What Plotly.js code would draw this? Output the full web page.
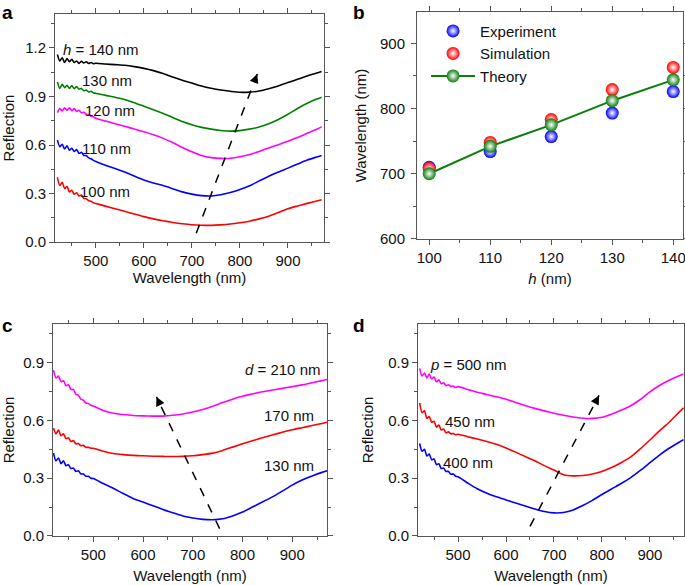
<!DOCTYPE html>
<html>
<head>
<meta charset="utf-8">
<script src="https://cdn.plot.ly/plotly-3.0.1.min.js"></script>
<style>
  body { margin: 0; background: #fff; }
  #chart { width: 685px; height: 585px; }
</style>
</head>
<body>
<div id="chart"></div>
<script>
// wavelength grid (nm) shared by the spectra in a, c and d
var wl = [420,425,430,435,440,445,450,455,460,465,470,475,480,485,490,495,500,
  520,540,560,580,600,620,640,660,680,700,720,740,760,780,800,820,840,860,880,900,920,940,960,970];

// panel a: h = 100 ... 140 nm
var refA100 = [0.40,0.35,0.37,0.33,0.345,0.31,0.32,0.295,0.305,0.285,0.29,0.27,0.268,0.255,0.252,0.242,0.238,
  0.222,0.206,0.19,0.173,0.157,0.143,0.131,0.121,0.113,0.107,0.104,0.103,0.106,0.111,0.119,0.129,0.143,0.16,0.182,0.206,0.223,0.239,0.254,0.262];
var refA110 = [0.63,0.59,0.605,0.575,0.595,0.568,0.58,0.56,0.572,0.548,0.555,0.535,0.535,0.52,0.515,0.505,0.498,
  0.475,0.455,0.433,0.408,0.384,0.365,0.349,0.33,0.31,0.296,0.287,0.285,0.292,0.306,0.325,0.348,0.378,0.407,0.433,0.457,0.482,0.507,0.526,0.535];
var refA120 = [0.80,0.825,0.81,0.83,0.815,0.83,0.812,0.825,0.808,0.815,0.80,0.802,0.79,0.788,0.778,0.774,0.766,
  0.748,0.732,0.716,0.699,0.682,0.663,0.641,0.615,0.585,0.558,0.535,0.522,0.517,0.518,0.527,0.541,0.56,0.582,0.602,0.623,0.647,0.672,0.698,0.712];
var refA130 = [0.99,0.95,0.975,0.955,0.97,0.95,0.968,0.948,0.962,0.945,0.95,0.935,0.94,0.928,0.932,0.922,0.92,
  0.907,0.895,0.882,0.862,0.84,0.818,0.795,0.77,0.745,0.725,0.709,0.698,0.69,0.686,0.689,0.698,0.712,0.732,0.758,0.79,0.826,0.858,0.884,0.896];
var refA140 = [1.16,1.12,1.14,1.11,1.135,1.115,1.13,1.11,1.12,1.105,1.118,1.108,1.115,1.104,1.11,1.103,1.106,
  1.101,1.097,1.093,1.085,1.074,1.06,1.042,1.02,1.0,0.983,0.965,0.951,0.94,0.932,0.926,0.927,0.934,0.948,0.965,0.986,1.007,1.027,1.045,1.055];

// panel b: resonance wavelength vs h
var hVals = [100, 110, 120, 130, 140];
var expWl = [710, 734, 757, 793, 826];
var simWl = [708, 748, 783, 829, 863];
var theoryWl = [700, 742, 775, 812, 844];

// panel c: d = 130, 170, 210 nm
var refC130 = [0.43,0.39,0.405,0.375,0.39,0.365,0.37,0.35,0.352,0.335,0.338,0.322,0.322,0.31,0.31,0.30,0.298,
  0.272,0.248,0.22,0.195,0.176,0.157,0.138,0.12,0.104,0.093,0.086,0.084,0.089,0.104,0.124,0.15,0.176,0.203,0.233,0.264,0.29,0.311,0.33,0.338];
var refC170 = [0.56,0.53,0.55,0.52,0.53,0.505,0.51,0.49,0.495,0.478,0.48,0.468,0.47,0.46,0.46,0.455,0.455,
  0.44,0.428,0.422,0.418,0.416,0.414,0.413,0.412,0.413,0.416,0.422,0.43,0.444,0.461,0.478,0.494,0.51,0.524,0.538,0.551,0.562,0.573,0.584,0.59];
var refC210 = [0.86,0.82,0.83,0.80,0.805,0.78,0.785,0.76,0.76,0.735,0.73,0.71,0.705,0.69,0.688,0.678,0.674,
  0.651,0.637,0.63,0.625,0.623,0.622,0.622,0.626,0.633,0.643,0.656,0.673,0.692,0.71,0.725,0.737,0.748,0.757,0.766,0.775,0.784,0.795,0.806,0.812];

// panel d: p = 400, 450, 500 nm
var refD400 = [0.48,0.44,0.45,0.415,0.425,0.395,0.40,0.37,0.375,0.35,0.352,0.335,0.335,0.32,0.322,0.31,0.307,
  0.275,0.245,0.222,0.203,0.187,0.171,0.155,0.14,0.127,0.12,0.122,0.135,0.158,0.185,0.215,0.244,0.272,0.303,0.34,0.38,0.42,0.455,0.485,0.50];
var refD450 = [0.69,0.64,0.65,0.61,0.62,0.59,0.595,0.565,0.575,0.55,0.555,0.535,0.54,0.53,0.532,0.525,0.528,
  0.515,0.503,0.49,0.476,0.457,0.435,0.412,0.39,0.365,0.342,0.318,0.312,0.314,0.322,0.335,0.355,0.38,0.41,0.452,0.498,0.545,0.59,0.64,0.665];
var refD500 = [0.87,0.83,0.845,0.82,0.84,0.815,0.825,0.80,0.81,0.79,0.795,0.78,0.785,0.775,0.778,0.77,0.775,
  0.76,0.746,0.734,0.722,0.709,0.693,0.677,0.662,0.649,0.637,0.626,0.617,0.611,0.61,0.616,0.632,0.652,0.676,0.708,0.748,0.781,0.808,0.83,0.84];

var font = 'Liberation Sans, Arial, Helvetica, sans-serif';

function spec(y, color, xa, ya) {
  return {
    x: wl, y: y, xaxis: xa, yaxis: ya, type: 'scatter', mode: 'lines',
    line: {color: color, width: 1.6, shape: 'spline', smoothing: 0.7},
    showlegend: false, hoverinfo: 'skip'
  };
}

function ball(y, color, name, withLine) {
  return {
    x: hVals, y: y, xaxis: 'x2', yaxis: 'y2', type: 'scatter', name: name,
    mode: withLine ? 'lines+markers' : 'markers',
    line: {color: color, width: 2},
    marker: {size: 13, color: color, gradient: {type: 'radial', color: '#ffffff'}}
  };
}

var data = [
  spec(refA100, '#ff0000', 'x', 'y'),
  spec(refA110, '#0000ff', 'x', 'y'),
  spec(refA120, '#ff00ff', 'x', 'y'),
  spec(refA130, '#008000', 'x', 'y'),
  spec(refA140, '#000000', 'x', 'y'),
  ball(expWl, '#0000ff', 'Experiment', false),
  ball(simWl, '#ff0000', 'Simulation', false),
  ball(theoryWl, '#0a7d0a', 'Theory', true),
  spec(refC130, '#0000ff', 'x3', 'y3'),
  spec(refC170, '#ff0000', 'x3', 'y3'),
  spec(refC210, '#ff00ff', 'x3', 'y3'),
  spec(refD400, '#0000ff', 'x4', 'y4'),
  spec(refD450, '#ff0000', 'x4', 'y4'),
  spec(refD500, '#ff00ff', 'x4', 'y4')
];

function axis(extra) {
  var a = {
    showline: true, linecolor: '#555', linewidth: 1, mirror: 'ticks',
    ticks: 'outside', ticklen: 5, tickcolor: '#555', tickwidth: 1,
    showgrid: false, zeroline: false, fixedrange: true, ticklabeloverflow: 'allow',
    tickfont: {family: font, size: 15, color: '#111'}
  };
  for (var k in extra) a[k] = extra[k];
  return a;
}

function minor(step) {
  return {ticks: 'outside', ticklen: 3, tickcolor: '#555', dtick: step, showgrid: false};
}

function ttl(text, standoff) {
  return {text: text, standoff: standoff, font: {family: font, size: 15, color: '#111'}};
}

var layout = {
  width: 685, height: 585,
  margin: {l: 0, r: 0, t: 0, b: 0},
  paper_bgcolor: '#fff', plot_bgcolor: '#fff',
  font: {family: font, size: 15, color: '#111'},
  xaxis: axis({domain: [0.0803, 0.473], anchor: 'y', range: [415, 975], dtick: 100, tick0: 0,
    minor: minor(50), title: ttl('Wavelength (nm)', 2)}),
  yaxis: axis({domain: [0.5863, 0.976], anchor: 'x', range: [0, 1.41], dtick: 0.3, tickformat: '.1f',
    minor: minor(0.15), title: ttl('Reflection', 8)}),
  xaxis2: axis({domain: [0.6088, 0.9971], anchor: 'y2', range: [98, 141.6], dtick: 10,
    minor: minor(5), title: ttl('<i>h</i> (nm)', 8)}),
  yaxis2: axis({domain: [0.5915, 0.9795], anchor: 'x2', range: [600, 948], dtick: 100,
    ticklabelstandoff: 3, minor: minor(50), title: ttl('Wavelength (nm)', 9)}),
  xaxis3: axis({domain: [0.0774, 0.4774], anchor: 'y3', range: [419, 970], dtick: 100, tick0: 0,
    minor: minor(50), title: ttl('Wavelength (nm)', 8)}),
  yaxis3: axis({domain: [0.0838, 0.4462], anchor: 'x3', range: [0, 1.1], dtick: 0.3, tickformat: '.1f',
    minor: minor(0.15), title: ttl('Reflection', 8)}),
  xaxis4: axis({domain: [0.6102, 0.9985], anchor: 'y4', range: [416.5, 971], dtick: 100, tick0: 0,
    minor: minor(50), title: ttl('Wavelength (nm)', 8)}),
  yaxis4: axis({domain: [0.0838, 0.4462], anchor: 'x4', range: [0, 1.1], dtick: 0.3, tickformat: '.1f',
    minor: minor(0.15), title: ttl('Reflection', 10)}),
  legend: {x: 0.622, y: 0.975, xanchor: 'left', yanchor: 'top', bgcolor: 'rgba(0,0,0,0)',
    itemwidth: 44, font: {family: font, size: 15, color: '#111'}},
  shapes: [
    {type: 'line', xref: 'x', yref: 'y', x0: 709, y0: 0.054, x1: 836, y1: 1.039, line: {color: '#000', width: 1.5, dash: 'dash'}},
    {type: 'line', xref: 'x3', yref: 'y3', x0: 754, y0: 0.038, x1: 627, y1: 0.722, line: {color: '#000', width: 1.5, dash: 'dash'}},
    {type: 'line', xref: 'x4', yref: 'y4', x0: 650, y0: 0.05, x1: 794, y1: 0.729, line: {color: '#000', width: 1.5, dash: 'dash'}}
  ],
  annotations: [
    // arrow heads
    {xref: 'x', yref: 'y', x: 836, y: 1.039, ax: -3, ay: 8, text: '', showarrow: true, arrowhead: 2, arrowsize: 1.2, arrowwidth: 1.5, arrowcolor: '#000'},
    {xref: 'x3', yref: 'y3', x: 627, y: 0.722, ax: 3.5, ay: 7.5, text: '', showarrow: true, arrowhead: 2, arrowsize: 1.2, arrowwidth: 1.5, arrowcolor: '#000'},
    {xref: 'x4', yref: 'y4', x: 794, y: 0.729, ax: -4, ay: 7.5, text: '', showarrow: true, arrowhead: 2, arrowsize: 1.2, arrowwidth: 1.5, arrowcolor: '#000'},
    // curve labels a
    {xref: 'x', yref: 'y', x: 428, y: 1.19, xanchor: 'left', text: '<i>h</i> = 140 nm', showarrow: false},
    {xref: 'x', yref: 'y', x: 467, y: 0.996, xanchor: 'left', text: '130 nm', showarrow: false},
    {xref: 'x', yref: 'y', x: 473, y: 0.816, xanchor: 'left', text: '120 nm', showarrow: false},
    {xref: 'x', yref: 'y', x: 467, y: 0.58, xanchor: 'left', text: '110 nm', showarrow: false},
    {xref: 'x', yref: 'y', x: 462, y: 0.311, xanchor: 'left', text: '100 nm', showarrow: false},
    // curve labels c
    {xref: 'x3', yref: 'y3', x: 960, y: 0.865, xanchor: 'right', text: '<i>d</i> = 210 nm', showarrow: false},
    {xref: 'x3', yref: 'y3', x: 948, y: 0.625, xanchor: 'right', text: '170 nm', showarrow: false},
    {xref: 'x3', yref: 'y3', x: 947, y: 0.364, xanchor: 'right', text: '130 nm', showarrow: false},
    // curve labels d
    {xref: 'x4', yref: 'y4', x: 437, y: 0.891, xanchor: 'left', text: '<i>p</i> = 500 nm', showarrow: false},
    {xref: 'x4', yref: 'y4', x: 469, y: 0.595, xanchor: 'left', text: '450 nm', showarrow: false},
    {xref: 'x4', yref: 'y4', x: 465, y: 0.381, xanchor: 'left', text: '400 nm', showarrow: false},
    // panel letters
    {xref: 'paper', yref: 'paper', x: 0.0, y: 1.0, xanchor: 'left', yanchor: 'top', text: '<b>a</b>', showarrow: false, font: {size: 19, color: '#000'}},
    {xref: 'paper', yref: 'paper', x: 0.5125, y: 1.0, xanchor: 'left', yanchor: 'top', text: '<b>b</b>', showarrow: false, font: {size: 19, color: '#000'}},
    {xref: 'paper', yref: 'paper', x: 0.0, y: 0.465, xanchor: 'left', yanchor: 'top', text: '<b>c</b>', showarrow: false, font: {size: 19, color: '#000'}},
    {xref: 'paper', yref: 'paper', x: 0.5125, y: 0.465, xanchor: 'left', yanchor: 'top', text: '<b>d</b>', showarrow: false, font: {size: 19, color: '#000'}}
  ]
};

Plotly.newPlot('chart', data, layout, {displayModeBar: false, staticPlot: true});
</script>
</body>
</html>
